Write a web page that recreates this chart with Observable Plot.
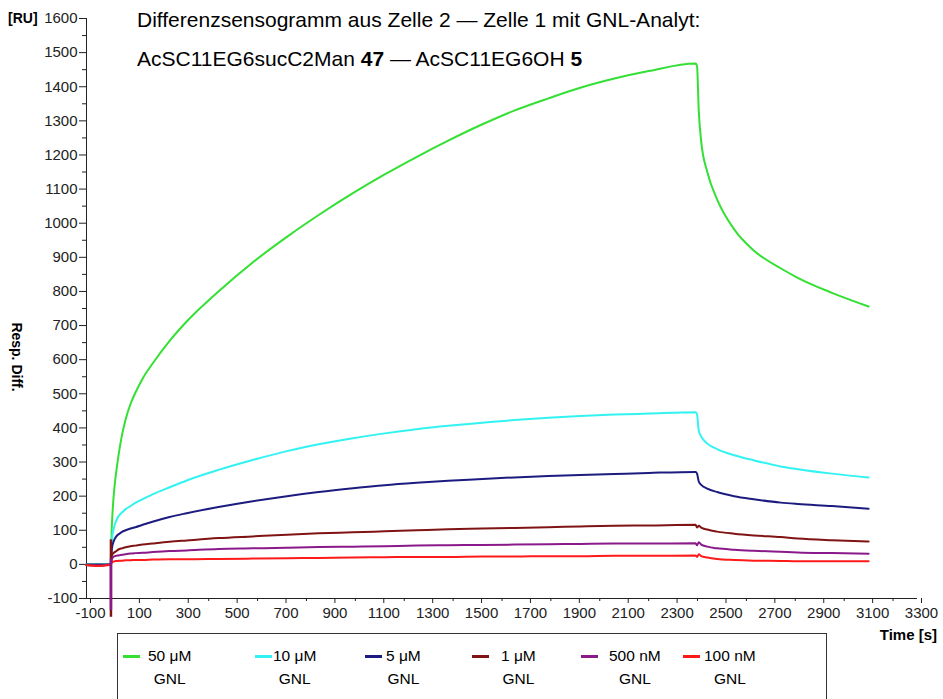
<!DOCTYPE html>
<html><head><meta charset="utf-8">
<script src="https://cdn.jsdelivr.net/npm/d3@7"></script>
<script src="https://cdn.jsdelivr.net/npm/@observablehq/plot@0.6"></script>
<style>
body{margin:0;background:#fff;font-family:"Liberation Sans",Arial,sans-serif;}
#wrap{position:relative;width:943px;height:699px;overflow:hidden;background:#fff;}
.ov{position:absolute;white-space:nowrap;color:#000;line-height:1;}
.legbox{position:absolute;left:117px;top:633px;width:710px;height:90px;border:1px solid #333;box-sizing:border-box;}
.swatch{position:absolute;height:3px;width:17px;}
.lt{position:absolute;font-size:15.5px;line-height:1;white-space:nowrap;text-align:center;}
</style></head><body><div id="wrap"></div><script>
// ---- data ----
const times = [-100, -50, -20, -2, 0, 3, 6, 10, 15, 20, 27, 35, 45, 60, 80, 100, 130, 170, 240, 310, 440, 580, 720, 850, 990, 1120, 1250, 1380, 1520, 1650, 1790, 1920, 2060, 2200, 2392, 2398, 2405, 2415, 2440, 2480, 2550, 2630, 2740, 2810, 2950, 3100];
const gnl50uM = [0, 0, 0, 0, 0, 100, 145, 190, 230, 262, 300, 338, 378, 425, 470, 503, 545, 588, 655, 712, 800, 885, 960, 1024, 1088, 1143, 1194, 1242, 1290, 1330, 1366, 1397, 1424, 1446, 1468, 1460, 1330, 1240, 1150, 1070, 982, 920, 868, 840, 796, 756];
const gnl10uM = [0, 0, 0, 0, 0, 60, 85, 100, 114, 125, 136, 145, 152, 162, 171, 180, 191, 205, 226, 246, 277, 306, 332, 352, 370, 384, 396, 406, 415, 423, 430, 435, 439, 442, 446, 440, 392, 375, 354, 338, 320, 305, 287, 279, 266, 255];
const gnl5uM = [0, 0, 0, 0, 0, 40, 55, 65, 74, 80, 86, 90, 95, 100, 105, 109, 116, 125, 139, 150, 168, 185, 200, 212, 223, 232, 239, 245, 250, 255, 259, 262, 265, 268, 271, 266, 243, 233, 222, 212, 200, 191, 181, 177, 171, 163];
const gnl1uM = [-2, -3, -2, 0, 0, 25, 30, 33, 36, 38, 42, 45, 47, 50, 53, 55, 58, 61, 66, 70, 77, 82, 87, 91, 94, 97, 100, 103, 105, 107, 109, 111, 113, 114, 116, 108, 113, 108, 102, 96, 90, 85, 80, 76, 71, 67];
const gnl500nM = [-2, -3, -2, 0, 0, 15, 19, 22, 24, 25, 26, 27, 28, 30, 32, 33, 34, 36, 39, 41, 45, 47, 49, 51, 52, 53, 55, 56, 57, 58, 59, 60, 61, 61, 62, 56, 65, 58, 52, 47, 43, 40, 37, 35, 33, 31];
const gnl100nM = [-2, -5, -3, -1, 0, 5, 7, 8, 9, 10, 10, 11, 11, 12, 12, 13, 13, 14, 15, 15, 16, 17, 18, 19, 20, 21, 22, 22, 23, 23, 24, 24, 25, 25, 26, 22, 30, 24, 20, 16, 13, 11, 10, 9, 9, 9];
const seriesNames = ["50 μM", "10 μM", "5 μM", "1 μM", "500 nM", "100 nM"];
const seriesUnitLine = "GNL";
// injection spike at t = 0
const spikeSeries = ["1 μM", "500 nM"];
const spikeTimes = [0, 0];
const spikeLow = [-155, -135];
const spikeHigh = [72, 15];
// axis ticks
const xMajor = d3.range(-100, 3301, 200);
const xMinor = d3.range(0, 3300, 200);
const yMajor = d3.range(-100, 1601, 100);
const yMinor = d3.range(-50, 1600, 100);
const titleLine1 = "Differenzsensogramm aus Zelle 2 — Zelle 1 mit GNL-Analyt:";
const titleLine2 = ["AcSC11EG6sucC2Man ", "47", " — AcSC11EG6OH ", "5"];
const yUnit = "[RU]";
const yLabel = "Resp. Diff.";
const xLabel = "Time [s]";

// ---- styles ----
const colors = ["#33e033", "#33f2f2", "#1c1c80", "#801414", "#8a1a8a", "#ff1a1a"];

const allValues = [gnl50uM, gnl10uM, gnl5uM, gnl1uM, gnl500nM, gnl100nM];
const rows = [];
allValues.forEach((vals, i) => times.forEach((t, j) => rows.push({t, v: vals[j], name: seriesNames[i]})));
const spikes = spikeSeries.map((s, i) => ({name: s, t: spikeTimes[i], lo: spikeLow[i], hi: spikeHigh[i]}));

const chart = Plot.plot({
  width: 943, height: 640,
  marginLeft: 86, marginRight: 26, marginTop: 18, marginBottom: 42,
  style: {fontFamily: '"Liberation Sans", Arial, sans-serif', fontSize: "15px", color: "#222", background: "transparent", overflow: "visible"},
  x: {domain: [-100, 3300], label: null},
  y: {domain: [-100, 1600], label: null},
  color: {domain: seriesNames, range: colors},
  marks: [
    Plot.axisX({ticks: xMinor, tickSize: 3, tickFormat: () => "", label: null}),
    Plot.axisX({ticks: xMajor, tickSize: 5, tickPadding: 4, tickFormat: d => String(d), label: null, dx: 4}),
    Plot.axisY({ticks: yMinor, tickSize: 4, tickFormat: () => "", label: null}),
    Plot.axisY({ticks: yMajor, tickSize: 7, tickPadding: 2, tickFormat: d => String(d), label: null}),
    Plot.ruleX([-100], {stroke: "#222"}),
    Plot.ruleY([-100], {stroke: "#222"}),
    Plot.line(rows, {x: "t", y: "v", z: "name", stroke: "name", strokeWidth: 2, curve: "monotone-x"}),
    Plot.ruleX(spikes, {x: "t", y1: "lo", y2: "hi", stroke: "name", strokeWidth: 2.5})
  ]
});

const wrap = document.getElementById("wrap");
chart.style.position = "absolute";
chart.style.left = "0px";
chart.style.top = "0px";
wrap.appendChild(chart);

function addText(html, css) {
  const d = document.createElement("div");
  d.className = "ov";
  d.innerHTML = html;
  Object.assign(d.style, css);
  wrap.appendChild(d);
  return d;
}
addText(titleLine1, {left: "137px", top: "9px", fontSize: "21px"});
addText(titleLine2[0] + "<b>" + titleLine2[1] + "</b>" + titleLine2[2] + "<b>" + titleLine2[3] + "</b>", {left: "137px", top: "48px", fontSize: "21px"});
addText(yUnit, {left: "8px", top: "11px", fontSize: "14px", fontWeight: "bold"});
const yl = addText(yLabel, {left: "17px", top: "357px", fontSize: "14px", fontWeight: "bold"});
yl.style.transform = "translate(-50%,-50%) rotate(90deg)";
addText(xLabel, {right: "6px", top: "627px", fontSize: "15px", fontWeight: "bold"});

// legend
const box = document.createElement("div");
box.className = "legbox";
wrap.appendChild(box);
const swatchX = [122, 254, 364, 471, 580, 682];
const textX = [147, 272, 385, 500, 608, 703];
seriesNames.forEach((name, i) => {
  const sw = document.createElement("div");
  sw.className = "swatch";
  Object.assign(sw.style, {left: (swatchX[i] - 117) + "px", top: "21px", background: colors[i]});
  box.appendChild(sw);
  const tx = document.createElement("div");
  tx.className = "lt";
  Object.assign(tx.style, {left: (textX[i] - 117) + "px", top: "14px"});
  tx.innerHTML = name + "<br><span style='display:block;margin-top:7px'>" + seriesUnitLine + "</span>";
  box.appendChild(tx);
});
</script></body></html>
